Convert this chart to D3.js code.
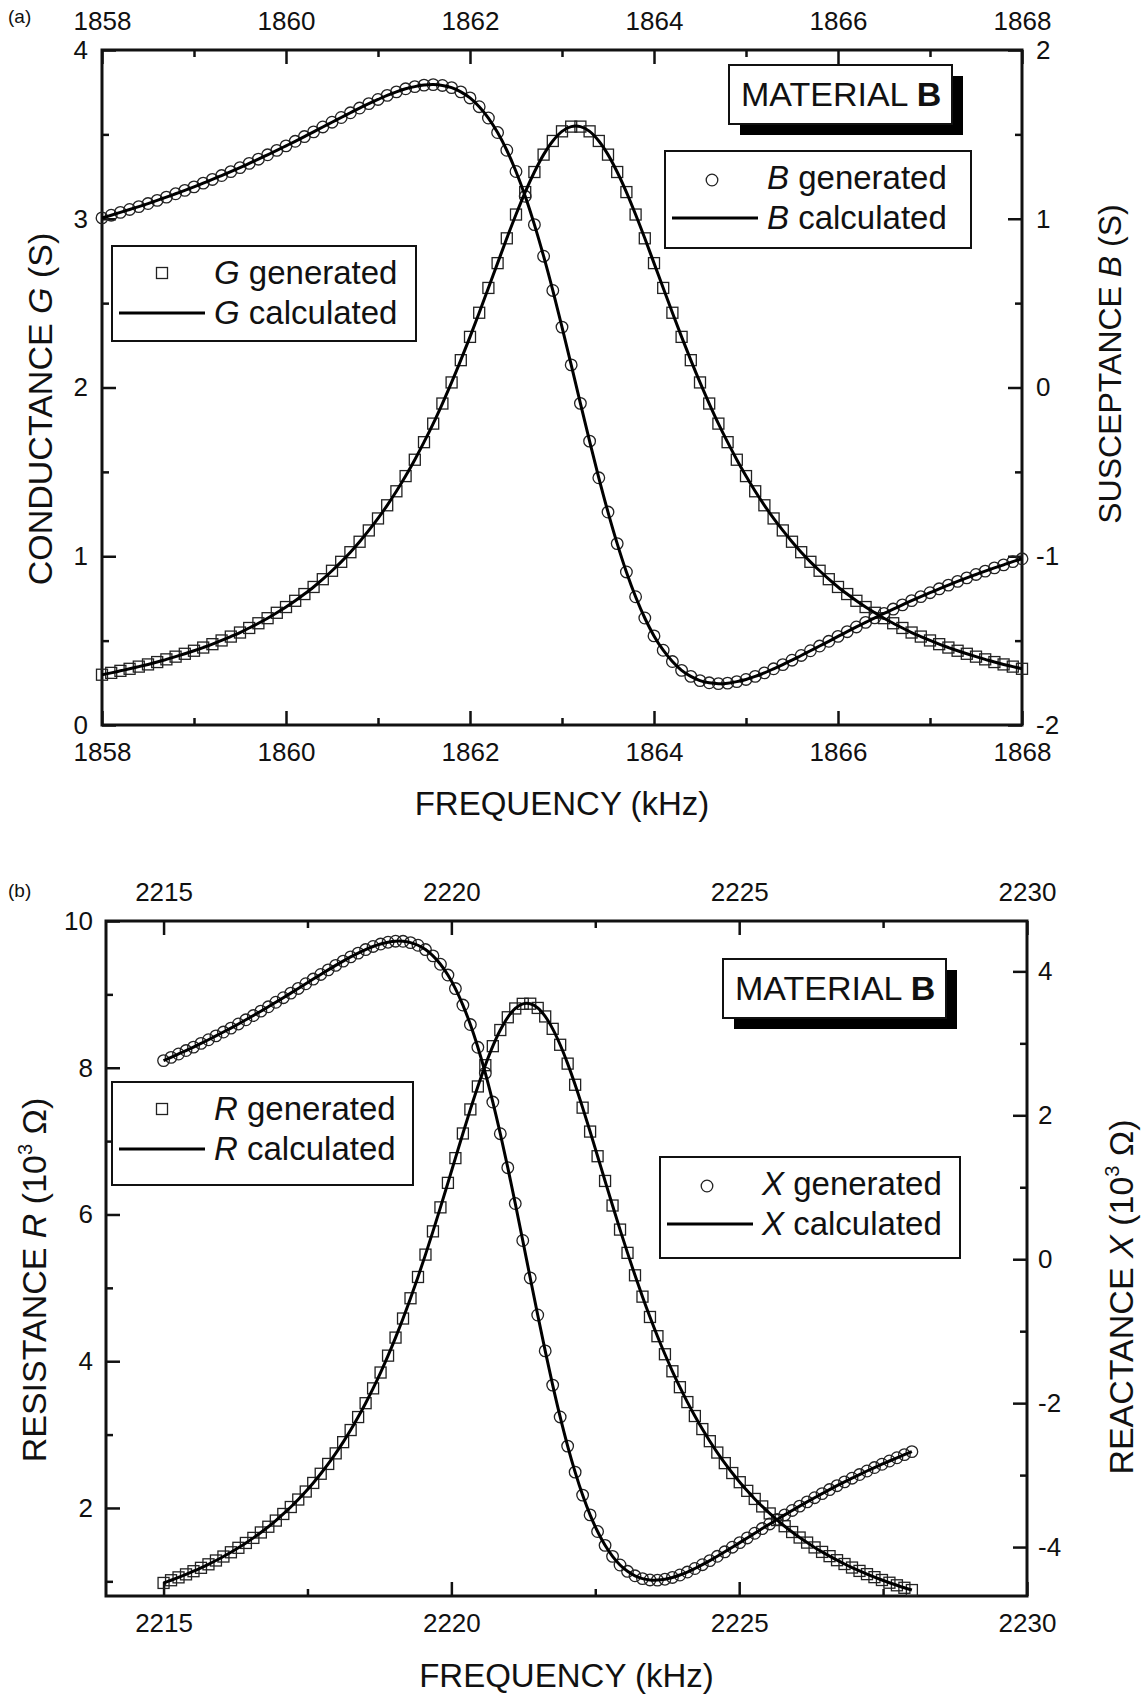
<!DOCTYPE html>
<html>
<head>
<meta charset="utf-8">
<title>Material B - admittance and impedance near resonance</title>
<script src="https://cdnjs.cloudflare.com/ajax/libs/d3/7.8.5/d3.min.js"></script>
<style>
    body { margin: 0; background: #fff; }
    svg text { font-family: "Liberation Sans", Arial, Helvetica, sans-serif; fill: #111; }
    .frame { fill: none; stroke: #111; stroke-width: 3; }
    .tick line { stroke: #111; stroke-width: 2.5; }
    .tick text { font-size: 26px; }
    .domain { display: none; }
    .calc { fill: none; stroke: #000; stroke-width: 3; }
    .gen { fill: none; stroke: #222; stroke-width: 1.3; }
    .legendbox { fill: #fff; stroke: #111; stroke-width: 2; }
    .title { font-size: 33px; }
    .legendtext { font-size: 33px; }
    .material { font-size: 34px; }
    .panellabel { font-size: 19px; }
</style>
</head>
<body>
<div id="chart"></div>
<script>

// ---------- panel (a): admittance, 1858 - 1868 kHz ----------
const freqA = [
    1858.0, 1858.1, 1858.2, 1858.3, 1858.4, 1858.5, 1858.6, 1858.7, 1858.8, 1858.9,
    1859.0, 1859.1, 1859.2, 1859.3, 1859.4, 1859.5, 1859.6, 1859.7, 1859.8, 1859.9,
    1860.0, 1860.1, 1860.2, 1860.3, 1860.4, 1860.5, 1860.6, 1860.7, 1860.8, 1860.9,
    1861.0, 1861.1, 1861.2, 1861.3, 1861.4, 1861.5, 1861.6, 1861.7, 1861.8, 1861.9,
    1862.0, 1862.1, 1862.2, 1862.3, 1862.4, 1862.5, 1862.6, 1862.7, 1862.8, 1862.9,
    1863.0, 1863.1, 1863.2, 1863.3, 1863.4, 1863.5, 1863.6, 1863.7, 1863.8, 1863.9,
    1864.0, 1864.1, 1864.2, 1864.3, 1864.4, 1864.5, 1864.6, 1864.7, 1864.8, 1864.9,
    1865.0, 1865.1, 1865.2, 1865.3, 1865.4, 1865.5, 1865.6, 1865.7, 1865.8, 1865.9,
    1866.0, 1866.1, 1866.2, 1866.3, 1866.4, 1866.5, 1866.6, 1866.7, 1866.8, 1866.9,
    1867.0, 1867.1, 1867.2, 1867.3, 1867.4, 1867.5, 1867.6, 1867.7, 1867.8, 1867.9,
    1868.0
];

// conductance G (S), left axis, squares
const gGenerated = [
    0.298, 0.309, 0.321, 0.333, 0.346, 0.359, 0.373, 0.389, 0.405, 0.422,
    0.440, 0.459, 0.479, 0.501, 0.524, 0.548, 0.575, 0.603, 0.633, 0.665,
    0.699, 0.736, 0.776, 0.818, 0.864, 0.914, 0.967, 1.024, 1.086, 1.153,
    1.224, 1.302, 1.385, 1.475, 1.572, 1.676, 1.786, 1.905, 2.030, 2.162,
    2.300, 2.443, 2.590, 2.737, 2.884, 3.025, 3.158, 3.277, 3.380, 3.461,
    3.518, 3.546, 3.546, 3.518, 3.461, 3.380, 3.277, 3.158, 3.025, 2.884,
    2.737, 2.590, 2.443, 2.300, 2.162, 2.030, 1.905, 1.786, 1.676, 1.572,
    1.475, 1.385, 1.302, 1.224, 1.153, 1.086, 1.024, 0.967, 0.914, 0.864,
    0.818, 0.776, 0.736, 0.699, 0.665, 0.633, 0.603, 0.575, 0.548, 0.524,
    0.501, 0.479, 0.459, 0.440, 0.422, 0.405, 0.389, 0.373, 0.359, 0.346,
    0.333
];

// susceptance B (S), right axis, circles
const bGenerated = [
    1.005, 1.021, 1.038, 1.055, 1.072, 1.090, 1.109, 1.128, 1.148, 1.168,
    1.189, 1.211, 1.233, 1.256, 1.279, 1.303, 1.328, 1.353, 1.379, 1.405,
    1.432, 1.459, 1.487, 1.515, 1.544, 1.572, 1.600, 1.628, 1.656, 1.682,
    1.707, 1.731, 1.752, 1.770, 1.783, 1.792, 1.795, 1.790, 1.777, 1.752,
    1.716, 1.664, 1.597, 1.511, 1.406, 1.280, 1.133, 0.965, 0.778, 0.575,
    0.358, 0.134, -0.094, -0.318, -0.535, -0.738, -0.925, -1.093, -1.240, -1.366,
    -1.472, -1.557, -1.624, -1.676, -1.712, -1.737, -1.750, -1.755, -1.752, -1.743,
    -1.730, -1.712, -1.691, -1.667, -1.642, -1.616, -1.588, -1.560, -1.532, -1.504,
    -1.475, -1.447, -1.419, -1.392, -1.365, -1.339, -1.313, -1.288, -1.263, -1.239,
    -1.216, -1.193, -1.171, -1.149, -1.128, -1.108, -1.088, -1.069, -1.051, -1.032,
    -1.015
];

// ---------- panel (b): impedance, 2215 - 2228 kHz ----------
const freqB = [
    2215.00, 2215.13, 2215.26, 2215.39, 2215.52, 2215.65, 2215.78, 2215.91, 2216.04, 2216.17,
    2216.30, 2216.43, 2216.56, 2216.69, 2216.82, 2216.95, 2217.08, 2217.21, 2217.34, 2217.47,
    2217.60, 2217.73, 2217.86, 2217.99, 2218.12, 2218.25, 2218.38, 2218.51, 2218.64, 2218.77,
    2218.90, 2219.03, 2219.16, 2219.29, 2219.42, 2219.55, 2219.68, 2219.81, 2219.94, 2220.07,
    2220.20, 2220.33, 2220.46, 2220.59, 2220.72, 2220.85, 2220.98, 2221.11, 2221.24, 2221.37,
    2221.50, 2221.63, 2221.76, 2221.89, 2222.02, 2222.15, 2222.28, 2222.41, 2222.54, 2222.67,
    2222.80, 2222.93, 2223.06, 2223.19, 2223.32, 2223.45, 2223.58, 2223.71, 2223.84, 2223.97,
    2224.10, 2224.23, 2224.36, 2224.49, 2224.62, 2224.75, 2224.88, 2225.01, 2225.14, 2225.27,
    2225.40, 2225.53, 2225.66, 2225.79, 2225.92, 2226.05, 2226.18, 2226.31, 2226.44, 2226.57,
    2226.70, 2226.83, 2226.96, 2227.09, 2227.22, 2227.35, 2227.48, 2227.61, 2227.74, 2227.87,
    2228.00
];

// resistance R (10^3 ohm), left axis, squares
const rGenerated = [
    0.978, 1.015, 1.054, 1.095, 1.138, 1.184, 1.232, 1.284, 1.338, 1.396,
    1.457, 1.523, 1.592, 1.666, 1.744, 1.828, 1.918, 2.013, 2.115, 2.224,
    2.341, 2.466, 2.600, 2.744, 2.897, 3.062, 3.239, 3.428, 3.630, 3.846,
    4.076, 4.322, 4.582, 4.858, 5.148, 5.453, 5.770, 6.097, 6.431, 6.768,
    7.104, 7.432, 7.745, 8.035, 8.294, 8.514, 8.688, 8.808, 8.871, 8.873,
    8.815, 8.699, 8.530, 8.313, 8.056, 7.768, 7.456, 7.130, 6.794, 6.457,
    6.122, 5.794, 5.477, 5.171, 4.880, 4.603, 4.341, 4.095, 3.863, 3.646,
    3.443, 3.253, 3.075, 2.910, 2.755, 2.611, 2.476, 2.351, 2.233, 2.123,
    2.021, 1.925, 1.835, 1.751, 1.672, 1.597, 1.528, 1.462, 1.401, 1.343,
    1.288, 1.236, 1.188, 1.142, 1.098, 1.057, 1.018, 0.981, 0.946, 0.912,
    0.881
];

// reactance X (10^3 ohm), right axis, circles
const xGenerated = [
    2.760, 2.805, 2.852, 2.900, 2.948, 2.999, 3.050, 3.103, 3.157, 3.212,
    3.269, 3.327, 3.386, 3.447, 3.508, 3.571, 3.634, 3.698, 3.763, 3.828,
    3.893, 3.957, 4.021, 4.083, 4.143, 4.201, 4.254, 4.303, 4.346, 4.380,
    4.405, 4.419, 4.418, 4.400, 4.363, 4.303, 4.216, 4.099, 3.949, 3.761,
    3.532, 3.261, 2.945, 2.586, 2.184, 1.744, 1.272, 0.774, 0.260, -0.260,
    -0.775, -1.274, -1.749, -2.192, -2.597, -2.959, -3.278, -3.553, -3.784, -3.976,
    -4.129, -4.249, -4.337, -4.399, -4.438, -4.457, -4.459, -4.447, -4.422, -4.388,
    -4.347, -4.298, -4.245, -4.188, -4.128, -4.066, -4.002, -3.938, -3.873, -3.808,
    -3.743, -3.679, -3.616, -3.553, -3.491, -3.431, -3.372, -3.314, -3.257, -3.201,
    -3.147, -3.094, -3.043, -2.992, -2.943, -2.895, -2.849, -2.804, -2.759, -2.716,
    -2.674
];

// tick values
const freqTicksA = [1858, 1860, 1862, 1864, 1866, 1868];
const freqMinorA = [1859, 1861, 1863, 1865, 1867];
const gTicks = [0, 1, 2, 3, 4];
const gMinor = [0.5, 1.5, 2.5, 3.5];
const bTicks = [-2, -1, 0, 1, 2];
const bMinor = [-1.5, -0.5, 0.5, 1.5];

const freqTicksB = [2215, 2220, 2225, 2230];
const freqMinorB = [2217.5, 2222.5, 2227.5];
const rTicks = [2, 4, 6, 8, 10];
const rMinor = [1, 3, 5, 7, 9];
const xTicks = [-4, -2, 0, 2, 4];
const xMinor = [-3, -1, 1, 3];


/* * * * * * * * * * * * * *
*      ResonancePanel      *
* * * * * * * * * * * * * */

class ResonancePanel {

    constructor(svg, cfg) {
        this.svg = svg;
        this.cfg = cfg;
        this.initVis();
    }

    initVis() {
        let vis = this;
        let c = vis.cfg;

        vis.g = vis.svg.append("g").attr("class", "panel");

        // scales
        vis.x = d3.scaleLinear().domain(c.xDomain).range([c.left, c.right]);
        vis.yLeft = d3.scaleLinear().domain(c.leftDomain).range([c.bottom, c.top]);
        vis.yRight = d3.scaleLinear().domain(c.rightDomain).range([c.bottom, c.top]);

        // axes, ticks pointing inwards
        vis.drawAxis(d3.axisTop(vis.x), `translate(0,${c.top})`, c.xTicks, c.xMinor, 20);
        vis.drawAxis(d3.axisBottom(vis.x), `translate(0,${c.bottom})`, c.xTicks, c.xMinor, 18);
        vis.drawAxis(d3.axisLeft(vis.yLeft), `translate(${c.left},0)`, c.leftTicks, c.leftMinor, c.padLeft);
        vis.drawAxis(d3.axisRight(vis.yRight), `translate(${c.right},0)`, c.rightTicks, c.rightMinor, c.padRight);

        // frame
        vis.g.append("rect")
            .attr("class", "frame")
            .attr("x", c.left)
            .attr("y", c.top)
            .attr("width", c.right - c.left)
            .attr("height", c.bottom - c.top);

        vis.drawTitles();
        vis.updateVis();
        vis.drawLegends();
    }

    drawAxis(axis, transform, ticks, minor, pad) {
        let vis = this;
        vis.g.append("g")
            .attr("transform", transform)
            .call(axis.tickValues(minor).tickSize(-7).tickFormat(""));
        vis.g.append("g")
            .attr("transform", transform)
            .call(axis.tickValues(ticks).tickSize(-14).tickPadding(pad).tickFormat(d => String(d)))
            .attr("font-size", null)
            .attr("font-family", null);
    }

    // writes a text made of plain / italic / superscript pieces
    richText(sel, parts) {
        parts.forEach(p => {
            let t = sel.append("tspan").text(p.t);
            if (p.it) t.attr("font-style", "italic");
            if (p.sup) t.attr("font-size", 20).attr("dy", -14);
            if (p.down) t.attr("dy", 14);
        });
    }

    drawTitles() {
        let vis = this;
        let c = vis.cfg;

        vis.g.append("text")
            .attr("class", "panellabel")
            .attr("x", 8)
            .attr("y", c.labelY)
            .text(c.label);

        vis.g.append("text")
            .attr("class", "title")
            .attr("x", (c.left + c.right) / 2)
            .attr("y", c.xTitleY)
            .attr("text-anchor", "middle")
            .text("FREQUENCY (kHz)");

        let lt = vis.g.append("text")
            .attr("font-size", c.leftTitleSize)
            .attr("text-anchor", "middle")
            .attr("transform", `translate(${c.leftTitle[0]},${c.leftTitle[1]}) rotate(-90)`);
        vis.richText(lt, c.leftTitleParts);

        let rt = vis.g.append("text")
            .attr("font-size", c.rightTitleSize)
            .attr("text-anchor", "middle")
            .attr("transform", `translate(${c.rightTitle[0]},${c.rightTitle[1]}) rotate(-90)`);
        vis.richText(rt, c.rightTitleParts);
    }

    updateVis() {
        let vis = this;
        let c = vis.cfg;

        let sqData = c.freq.map((f, i) => ({f: f, v: c.squares[i]}));
        let ciData = c.freq.map((f, i) => ({f: f, v: c.circles[i]}));

        // generated points
        vis.g.append("g")
            .selectAll("rect")
            .data(sqData)
            .enter().append("rect")
            .attr("class", "gen")
            .attr("x", d => vis.x(d.f) - 5.5)
            .attr("y", d => vis.yLeft(d.v) - 5.5)
            .attr("width", 11)
            .attr("height", 11);

        vis.g.append("g")
            .selectAll("circle")
            .data(ciData)
            .enter().append("circle")
            .attr("class", "gen")
            .attr("cx", d => vis.x(d.f))
            .attr("cy", d => vis.yRight(d.v))
            .attr("r", 5.8);

        // calculated curves
        let lineLeft = d3.line().x(d => vis.x(d.f)).y(d => vis.yLeft(d.v)).curve(d3.curveCatmullRom);
        let lineRight = d3.line().x(d => vis.x(d.f)).y(d => vis.yRight(d.v)).curve(d3.curveCatmullRom);

        vis.g.append("path").attr("class", "calc").attr("d", lineLeft(sqData));
        vis.g.append("path").attr("class", "calc").attr("d", lineRight(ciData));
    }

    drawLegends() {
        let vis = this;
        let c = vis.cfg;

        // "MATERIAL B" box with drop shadow
        let m = c.material;
        vis.g.append("rect")
            .attr("x", m.x + 11).attr("y", m.y + 11)
            .attr("width", m.w).attr("height", m.h)
            .attr("fill", "#000");
        vis.g.append("rect")
            .attr("class", "legendbox")
            .attr("x", m.x).attr("y", m.y)
            .attr("width", m.w).attr("height", m.h);
        let mt = vis.g.append("text")
            .attr("class", "material")
            .attr("x", m.x + 12)
            .attr("y", m.y + 41);
        mt.append("tspan").text("MATERIAL ");
        mt.append("tspan").attr("font-weight", "bold").text("B");

        // series legends
        c.legends.forEach(l => {
            vis.g.append("rect")
                .attr("class", "legendbox")
                .attr("x", l.x).attr("y", l.y)
                .attr("width", l.w).attr("height", l.h)
                .attr("stroke-width", 1.6);

            if (l.marker === "square") {
                vis.g.append("rect")
                    .attr("class", "gen")
                    .attr("x", l.x + 50 - 5.5).attr("y", l.y + 27 - 5.5)
                    .attr("width", 11).attr("height", 11);
            } else {
                vis.g.append("circle")
                    .attr("class", "gen")
                    .attr("cx", l.x + 47).attr("cy", l.y + 29)
                    .attr("r", 5.8);
            }

            vis.g.append("line")
                .attr("class", "calc")
                .attr("x1", l.x + 7).attr("x2", l.x + 93)
                .attr("y1", l.y + 67).attr("y2", l.y + 67);

            let t1 = vis.g.append("text").attr("class", "legendtext")
                .attr("x", l.x + 102).attr("y", l.y + 38);
            t1.append("tspan").attr("font-style", "italic").text(l.sym);
            t1.append("tspan").text(" generated");

            let t2 = vis.g.append("text").attr("class", "legendtext")
                .attr("x", l.x + 102).attr("y", l.y + 78);
            t2.append("tspan").attr("font-style", "italic").text(l.sym);
            t2.append("tspan").text(" calculated");
        });
    }
}


// draw area
let svg = d3.select("#chart").append("svg")
    .attr("width", 1147)
    .attr("height", 1696);

svg.append("rect").attr("width", 1147).attr("height", 1696).attr("fill", "#fff");

new ResonancePanel(svg, {
    label: "(a)", labelY: 23,
    left: 102, right: 1022, top: 50, bottom: 725,
    xDomain: [1858, 1868], leftDomain: [0, 4], rightDomain: [-2, 2],
    xTicks: freqTicksA, xMinor: freqMinorA,
    leftTicks: gTicks, leftMinor: gMinor,
    rightTicks: bTicks, rightMinor: bMinor,
    padLeft: 14, padRight: 14,
    freq: freqA, squares: gGenerated, circles: bGenerated,
    xTitleY: 815,
    leftTitle: [52, 409], leftTitleSize: 34,
    leftTitleParts: [{t: "CONDUCTANCE "}, {t: "G", it: true}, {t: " (S)"}],
    rightTitle: [1121, 364], rightTitleSize: 32,
    rightTitleParts: [{t: "SUSCEPTANCE "}, {t: "B", it: true}, {t: " (S)"}],
    material: {x: 729, y: 65, w: 223, h: 59},
    legends: [
        {x: 112, y: 246, w: 304, h: 95, marker: "square", sym: "G"},
        {x: 665, y: 151, w: 306, h: 97, marker: "circle", sym: "B"}
    ]
});

new ResonancePanel(svg, {
    label: "(b)", labelY: 897,
    left: 106, right: 1027, top: 921, bottom: 1596,
    xDomain: [2214, 2230], leftDomain: [0.8, 10], rightDomain: [-4.68, 4.7],
    xTicks: freqTicksB, xMinor: freqMinorB,
    leftTicks: rTicks, leftMinor: rMinor,
    rightTicks: xTicks, rightMinor: xMinor,
    padLeft: 13, padRight: 11,
    freq: freqB, squares: rGenerated, circles: xGenerated,
    xTitleY: 1687,
    leftTitle: [46, 1280], leftTitleSize: 34,
    leftTitleParts: [{t: "RESISTANCE "}, {t: "R", it: true}, {t: " (10"}, {t: "3", sup: true}, {t: " \u03A9)", down: true}],
    rightTitle: [1133, 1297], rightTitleSize: 34,
    rightTitleParts: [{t: "REACTANCE "}, {t: "X", it: true}, {t: " (10"}, {t: "3", sup: true}, {t: " \u03A9)", down: true}],
    material: {x: 723, y: 959, w: 223, h: 59},
    legends: [
        {x: 112, y: 1082, w: 301, h: 103, marker: "square", sym: "R"},
        {x: 660, y: 1157, w: 300, h: 101, marker: "circle", sym: "X"}
    ]
});

</script>
</body>
</html>
